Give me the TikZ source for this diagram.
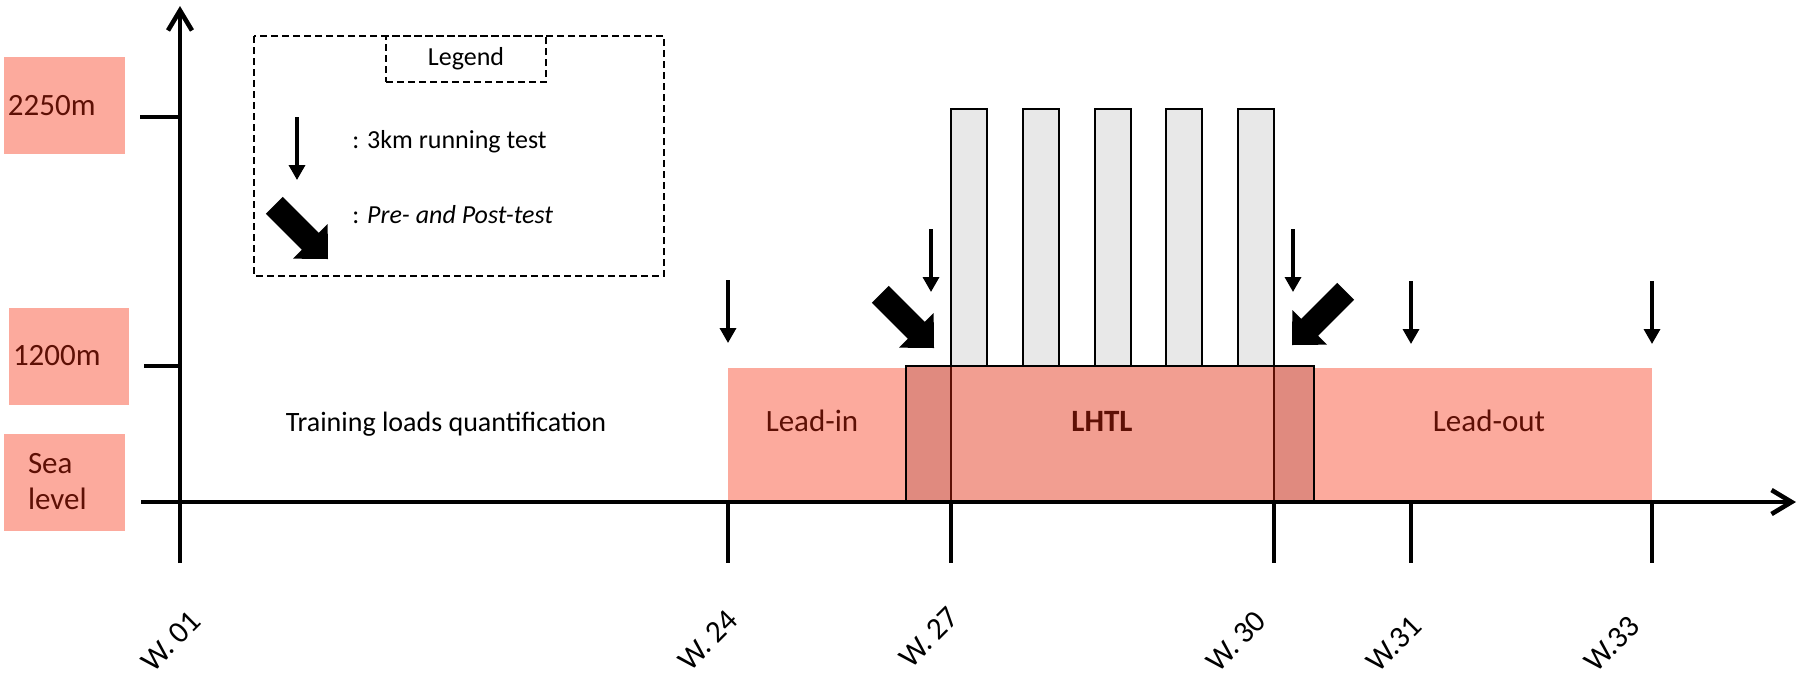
\documentclass[tikz,border=0pt]{standalone}
\usepackage{fontspec}
\setmainfont{Carlito}
\usepackage{tikz}
\usetikzlibrary{arrows.meta,positioning,calc}

\definecolor{leadpink}{HTML}{FCAA9D}
\definecolor{lhtlpink}{HTML}{F29E91}
\definecolor{overlappink}{HTML}{E08A7F}
\definecolor{barfill}{HTML}{E8E8E8}
\definecolor{darkred}{HTML}{5E1005}

\tikzset{
	timeaxis/.style={line width=2.3pt,-{Straight Barb[length=10pt,width=12pt]}},
	weektick/.style={line width=2.3pt},
	testarrow/.style={line width=1.7pt,-{Triangle[length=7.5pt,width=8pt]}},
	hypoxbar/.style={fill=barfill,draw=black,line width=0.65pt},
	altbox/.style={fill=leadpink,text=darkred,font=\fontsize{15.5}{18}\selectfont,
		minimum height=48.5pt,inner xsep=2pt,inner ysep=0pt,align=left},
	phaselabel/.style={text=darkred,font=\fontsize{15.5}{18}\selectfont},
	weeklabel/.style={rotate=45,font=\fontsize{15.5}{18}\selectfont},
	legendtext/.style={anchor=west,inner sep=0pt,font=\fontsize{13}{16}\selectfont},
	fatarrow/.pic={\fill (0,0) -- (-25,24.5) -- (-25,12) -- (-76,12) -- (-76,-12) -- (-25,-12) -- (-25,-24.5) -- cycle;}
}

\begin{document}
\begin{tikzpicture}[x=0.5pt,y=-0.5pt]
	\useasboundingbox (0,0) rectangle (1800,677);

	\node[altbox,text width=56.5pt] (h2250) at (64.5,105.5) {2250m};
	\node[altbox,text width=56pt  ] (h1200) at (69,356)     {1200m};
	\node[altbox,text width=36.5pt,inner xsep=12pt] (hsea) at (64.5,482) {Sea\\level};

	\fill[leadpink   ] (728,368)  rectangle (951,502);
	\fill[leadpink   ] (1274,368) rectangle (1652,502);
	\fill[lhtlpink   ] (906,366)  rectangle (1314,502);
	\fill[overlappink] (906,366)  rectangle (951,502);
	\fill[overlappink] (1274,366) rectangle (1314,502);
	\draw[darkred,line width=0.9pt] (951,366)  -- (951,502);
	\draw[darkred,line width=0.9pt] (1274,366) -- (1274,502);
	\draw[line width=0.6pt] (906,502) -- (906,366) -- (1314,366) -- (1314,502);

	\foreach \x in {951,1023,1095,1166,1238}
		\draw[hypoxbar] (\x,109) rectangle ++(36,257);

	\node[phaselabel] (leadin)  at (812,421)  {Lead-in};
	\node[phaselabel] (lhtl)    at (1102,421) {\bfseries LHTL};
	\node[phaselabel] (leadout) at (1489,421) {Lead-out};
	\node[font=\fontsize{14}{16}\selectfont] (quantif) at (446,424) {Training loads quantification};

	\draw[timeaxis] (180,563) -- (180,6);
	\draw[timeaxis] (180,502) -- (1796,502);
	\draw[weektick] (140,117) -- (180,117);
	\draw[weektick] (144,366) -- (180,366);
	\draw[weektick] (141,502) -- (180,502);
	\foreach \x in {728,951,1274,1411,1652}
		\draw[weektick] (\x,502) -- (\x,563);

	\node[weeklabel] (w01) at (171,641)  {W. 01};
	\node[weeklabel] (w24) at (708,640)  {W. 24};
	\node[weeklabel] (w27) at (929,637)  {W. 27};
	\node[weeklabel] (w30) at (1236,641) {W. 30};
	\node[weeklabel] (w31) at (1394,644) {W.31};
	\node[weeklabel] (w33) at (1612,644) {W.33};

	\foreach \x/\ya/\yb in {728/280/343,931/229/292,1293/229/292,1411/281/344,1652/281/344}
		\draw[testarrow] (\x,\ya) -- (\x,\yb);
	\pic[rotate=-45 ] at (934,348)  {fatarrow};
	\pic[rotate=-135] at (1292,345) {fatarrow};

	\draw[dashed,line width=0.65pt,dash pattern=on 3.5pt off 2pt] (254,36) rectangle (664,276);
	\node[draw,dashed,line width=0.65pt,dash pattern=on 3.5pt off 2pt,minimum width=80pt,minimum height=23pt,
		font=\fontsize{13}{16}\selectfont] (legendtitle) at (466,59) {Legend};
	\draw[testarrow] (297,117) -- (297,180);
	\pic[rotate=-45] at (328,259) {fatarrow};
	\node[legendtext] (runtest) at (352,142) {: 3km running test};
	\node[legendtext] (prepost) at (352,215) {: \textit{Pre- and Post-test}};
\end{tikzpicture}
\end{document}
